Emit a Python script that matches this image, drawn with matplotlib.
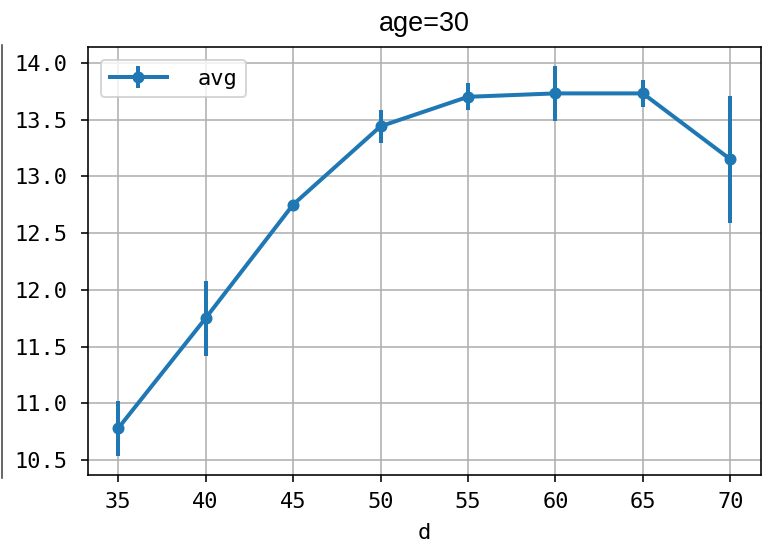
import matplotlib
matplotlib.use("Agg")
import matplotlib.pyplot as plt
from matplotlib.lines import Line2D

plt.rcParams['font.family'] = ['DejaVu Sans Mono', 'Noto Sans CJK JP']

d = [35, 40, 45, 50, 55, 60, 65, 70]
avg = [10.78, 11.75, 12.75, 13.44, 13.70, 13.73, 13.73, 13.15]
err = [0.24, 0.33, 0.0, 0.145, 0.12, 0.24, 0.12, 0.56]
title = "age=30"
xlabel = "d"
series_label = "avg"

fig = plt.figure(figsize=(782/144, 546/144), dpi=144)
ax = fig.add_axes([0.112, 0.130, 0.973 - 0.112, 0.9145 - 0.130])
ax.errorbar(d, avg, yerr=err, marker='o', markersize=5, color='#1f77b4',
            linewidth=2, elinewidth=2, label=series_label)
ax.set_title(title, fontsize=13.5, family=['Liberation Sans'], pad=8)
ax.set_xlabel(xlabel, fontsize=11, labelpad=5.5)
ax.set_xticks(d)
ax.tick_params(axis='x', labelsize=11, pad=5)
ax.tick_params(axis='y', labelsize=11, pad=6.5)
ax.grid(True)
ax.legend(loc='upper left', handlelength=2.6, handletextpad=1.4,
          borderaxespad=0.6, fontsize=11)
fig.add_artist(Line2D([0.002, 0.002], [0.125, 0.918], transform=fig.transFigure,
                      color='#444444', linewidth=0.8))
fig.savefig("out.png", dpi=144)
